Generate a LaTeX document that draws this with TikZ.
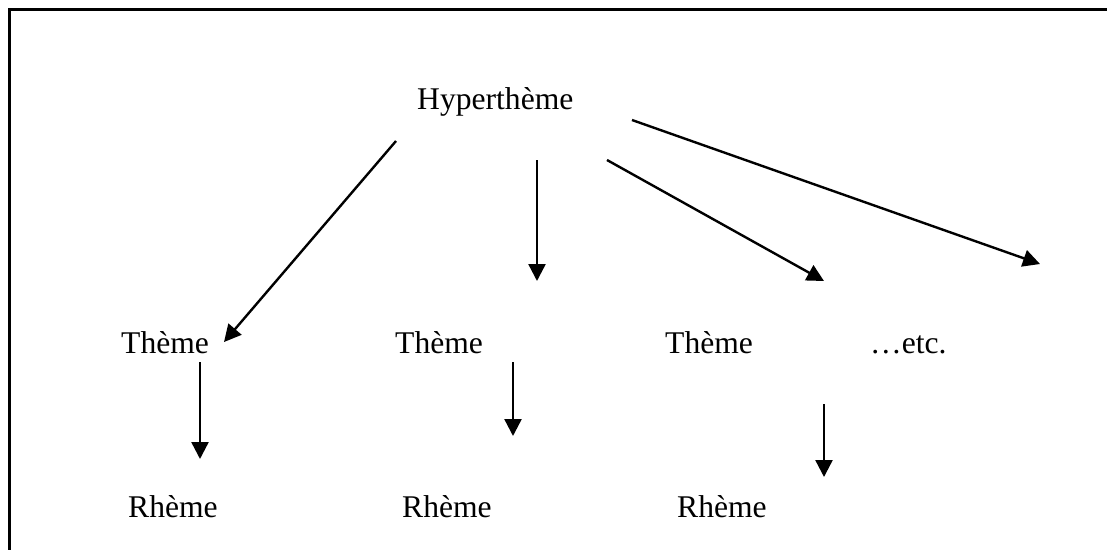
\documentclass[tikz,border=0pt]{standalone}
\usepackage{fontspec}
\setmainfont{Liberation Serif}
\usetikzlibrary{arrows.meta}
\begin{document}
\begin{tikzpicture}[x=1pt,y=-1pt,
  label/.style={anchor=base west,inner sep=0pt,font=\fontsize{31.6}{38}\selectfont},
  link/.style={line width=2.4pt,-{Triangle[width=17pt,length=17pt]}}]
  \useasboundingbox (0,0) rectangle (1107,549);
  \begin{scope}
    \clip (0,0) rectangle (1107,549);
    % frame, running off the right and bottom edges
    \draw[line width=2.6pt] (9.7,600) -- (9.7,9.7) -- (1120,9.7);
  \end{scope}
  % texts
  \node[label] (hyper) at (417,109) {Hyperthème};
  \node[label] (t1) at (121,353) {Thème};
  \node[label] (t2) at (395,353) {Thème};
  \node[label] (t3) at (665,353) {Thème};
  \node[label] (etc) at (870,353) {…etc.};
  \node[label] (r1) at (128,517) {Rhème};
  \node[label] (r2) at (402,517) {Rhème};
  \node[label] (r3) at (677,517) {Rhème};
  % arrow end points
  \coordinate (a1s) at (396,141);  \coordinate (a1e) at (224,342);
  \coordinate (a2s) at (537,160);  \coordinate (a2e) at (537,281);
  \coordinate (a3s) at (607,160);  \coordinate (a3e) at (824,281);
  \coordinate (a4s) at (632,120);  \coordinate (a4e) at (1040,264);
  \coordinate (a5s) at (200,362);  \coordinate (a5e) at (200,459);
  \coordinate (a6s) at (513,362);  \coordinate (a6e) at (513,436);
  \coordinate (a7s) at (824,404);  \coordinate (a7e) at (824,477);
  \draw[link] (a1s) -- (a1e);
  \draw[link] (a2s) -- (a2e);
  \draw[link] (a3s) -- (a3e);
  \draw[link] (a4s) -- (a4e);
  \draw[link] (a5s) -- (a5e);
  \draw[link] (a6s) -- (a6e);
  \draw[link] (a7s) -- (a7e);
\end{tikzpicture}
\end{document}
